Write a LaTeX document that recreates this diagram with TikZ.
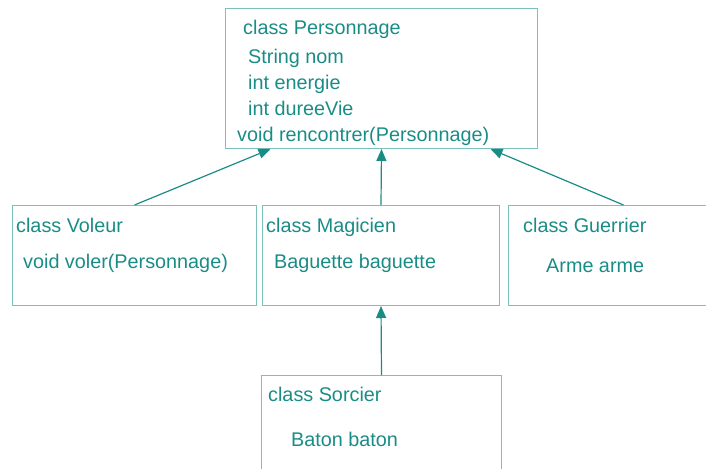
\documentclass[tikz,border=0pt]{standalone}
\usepackage{fontspec}
\setmainfont{Liberation Sans}
\usepackage{xcolor}
\usepackage{tikz}
\usetikzlibrary{arrows.meta, positioning}
\definecolor{vert}{HTML}{1A8C86}
\definecolor{bord}{HTML}{7CC0BC}

\begin{document}
\begin{tikzpicture}[x=1pt, y=-1pt,
    classe/.style={draw=bord, line width=1pt, inner sep=0pt, anchor=north west},
    txt/.style={text=vert, anchor=base west, inner sep=0pt, font=\fontsize{19.8}{23}\selectfont},
    herite/.style={draw=vert, line width=1.2pt, -{Triangle[length=12pt,width=10pt]}}]

    \useasboundingbox (0,0) rectangle (706,468);

    % Boites
    \node[classe, minimum width=312pt, minimum height=140pt] (perso) at (225,8) {};
    \node[classe, minimum width=244pt, minimum height=100pt] (voleur) at (12,205) {};
    \node[classe, minimum width=237pt, minimum height=100pt] (magicien) at (262,205) {};
    \node[classe, minimum width=230pt, minimum height=100pt] (guerrier) at (508,205) {};
    \node[classe, minimum width=240pt, minimum height=100pt] (sorcier) at (261,375) {};

    % Personnage
    \node[txt] (pnom) at (243,35) {class Personnage};
    \node[txt] (pa) at (248,64) {String nom};
    \node[txt] (pb) at (248,90) {int energie};
    \node[txt] (pc) at (248,115) {int dureeVie};
    \node[txt] (pd) at (237,142) {void rencontrer(Personnage)};

    % Voleur, Magicien, Guerrier
    \node[txt] (vnom) at (16,232) {class Voleur};
    \node[txt] (va) at (23,268) {void voler(Personnage)};
    \node[txt] (mnom) at (266,232) {class Magicien};
    \node[txt] (ma) at (274,268) {Baguette baguette};
    \node[txt] (gnom) at (523,232) {class Guerrier};
    \node[txt] (ga) at (546,272) {Arme arme};

    % Sorcier
    \node[txt] (snom) at (268,401) {class Sorcier};
    \node[txt] (sa) at (291,446) {Baton baton};

    % Heritage
    \draw[herite] (voleur.north) -- ([xshift=-111pt]perso.south);
    \draw[herite] (magicien.north) -- (perso.south);
    \draw[herite] (guerrier.north) -- ([xshift=109pt]perso.south);
    \draw[herite] (sorcier.north) -- (magicien.south);
\end{tikzpicture}
\end{document}
